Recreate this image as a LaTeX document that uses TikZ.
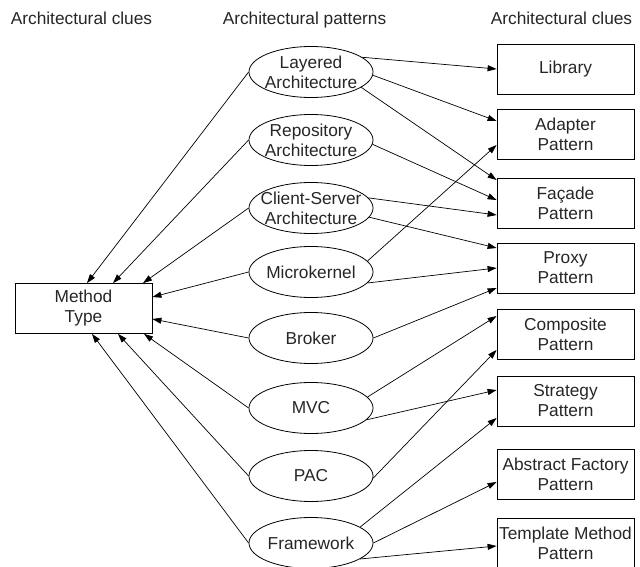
\documentclass[tikz,border=0pt]{standalone}
\usepackage{fontspec}
\setmainfont{Liberation Sans}
\usetikzlibrary{shapes.geometric,arrows.meta}
\begin{document}
\begin{tikzpicture}[x=1pt,y=-1pt,
  font=\fontsize{17.3}{20}\selectfont, text=black!85,
  ell/.style={ellipse,draw,line width=0.8pt,minimum width=124pt,minimum height=51pt,inner sep=0pt},
  txt/.style={align=center,inner sep=0pt},
  box/.style={rectangle,draw,line width=0.8pt,minimum width=137pt,minimum height=50pt,inner sep=1pt,align=center},
  arr/.style={line width=0.7pt,-{Triangle[length=9pt,width=6pt]}},
  hdr/.style={anchor=base,inner sep=0pt}]
\useasboundingbox (0,0) rectangle (640,567);

% headers
\node[hdr] (h1) at (81.5,25) {Architectural clues};
\node[hdr] (h2) at (304.5,25) {Architectural patterns};
\node[hdr] (h3) at (561.5,25) {Architectural clues};

% method type
\node[box] (mt) at (83.5,308.5) {Method\\Type};

% ellipses
\node[ell] (lay) at (311,72) {};
\node[txt] (layt) at (lay) {Layered\\Architecture};
\node[ell] (rep) at (311,140) {};
\node[txt] (rept) at (rep) {Repository\\Architecture};
\node[ell] (cs) at (311,208) {};
\node[txt] (cst) at (cs) {Client-Server\\Architecture};
\node[ell] (mk) at (311,272) {};
\node[txt] (mkt) at (mk) {Microkernel};
\node[ell] (br) at (311,338) {};
\node[txt] (brt) at (br) {Broker};
\node[ell] (mvc) at (311,408) {};
\node[txt] (mvct) at (mvc) {MVC};
\node[ell] (pac) at (311,476) {};
\node[txt] (pact) at (pac) {PAC};
\node[ell] (fw) at (311,543) {};
\node[txt] (fwt) at (fw) {Framework};

% right boxes
\node[box] (lib) at (565.5,69) {Library};
\node[box] (ad) at (565.5,134) {Adapter\\Pattern};
\node[box] (fa) at (565.5,203) {Façade\\Pattern};
\node[box] (px) at (565.5,268) {Proxy\\Pattern};
\node[box] (co) at (565.5,334) {Composite\\Pattern};
\node[box] (st) at (565.5,401) {Strategy\\Pattern};
\node[box] (af) at (565.5,474) {Abstract Factory\\Pattern};
\node[box] (tm) at (565.5,543) {Template Method\\Pattern};

% left connectors
\draw[arr] (lay.west) -- ([xshift=3.5pt]mt.north);
\draw[arr] (rep.west) -- ([xshift=29.5pt]mt.north);
\draw[arr] (cs.west) -- ([xshift=59.5pt]mt.north);
\draw[arr] (mk.west) -- ([yshift=11.5pt]mt.east);
\draw[arr] (br.west) -- ([yshift=-10.5pt]mt.east);
\draw[arr] (mvc.west) -- ([xshift=60.5pt]mt.south);
\draw[arr] (pac.west) -- ([xshift=34.5pt]mt.south);
\draw[arr] (fw.west) -- ([xshift=8.5pt]mt.south);

% right connectors
\draw[arr] (lay.16) -- (lib.west);
\draw[arr] (lay.-3) -- ([yshift=13pt]ad.west);
\draw[arr] (lay.-17) -- ([yshift=23pt]fa.west);
\draw[arr] (rep.-4) -- ([yshift=3pt]fa.west);
\draw[arr] (cs.10) -- ([yshift=-12pt]fa.west);
\draw[arr] (cs.-9) -- ([yshift=20pt]px.west);
\draw[arr] (mk.11) -- ([yshift=-11pt]ad.west);
\draw[arr] (mk.-11) -- (px.west);
\draw[arr] (br.0) -- ([yshift=-20pt]px.west);
\draw[arr] (mvc.11) -- ([yshift=18pt]co.west);
\draw[arr] (mvc.-12) -- ([yshift=11pt]st.west);
\draw[arr] (pac.-2) -- ([yshift=-16pt]co.west);
\draw[arr] (fw.18) -- ([yshift=-17pt]st.west);
\draw[arr] (fw.0) -- ([yshift=-8pt]af.west);
\draw[arr] (fw.-18) -- ([yshift=-3pt]tm.west);
\end{tikzpicture}
\end{document}
